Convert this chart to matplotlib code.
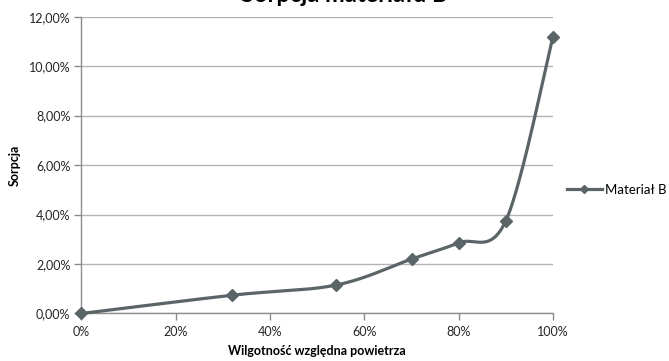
import numpy as np
import matplotlib
matplotlib.use("Agg")
import matplotlib.pyplot as plt
from matplotlib.ticker import FuncFormatter

plt.rcParams['font.family'] = ['Lato', 'DejaVu Sans']

# wilgotnosc wzgledna [%] i sorpcja [%]
humidity = [0, 32, 54, 70, 80, 90, 100]
sorption = [0.0, 0.74, 1.15, 2.20, 2.86, 3.75, 11.19]
series_name = "Materiał B"

line_color = "#5b6466"
grid_color = "#b4b4b4"
axis_color = "#8c8c8c"


def smooth_curve(ax, xs, ys, steps=40):
    """Excel-style smoothed line: Catmull-Rom bezier built in display space."""
    pts = ax.transData.transform(np.column_stack([xs, ys]))
    n = len(pts)
    out = []
    for i in range(n - 1):
        p0 = pts[max(i - 1, 0)]
        p1 = pts[i]
        p2 = pts[i + 1]
        p3 = pts[min(i + 2, n - 1)]
        c1 = p1 + (p2 - p0) / 6.0
        c2 = p2 - (p3 - p1) / 6.0
        t = np.linspace(0, 1, steps)[:, None]
        seg = ((1 - t) ** 3) * p1 + 3 * ((1 - t) ** 2) * t * c1 \
            + 3 * (1 - t) * t ** 2 * c2 + t ** 3 * p2
        out.append(seg if i == 0 else seg[1:])
    out = np.vstack(out)
    data = ax.transData.inverted().transform(out)
    return data[:, 0], data[:, 1]


fig = plt.figure(figsize=(6.69, 3.61), dpi=100)
ax = fig.add_axes([0.1218, 0.1316, 0.7048, 0.8222])

ax.set_xlim(0, 100)
ax.set_ylim(0, 12)
ax.set_xticks(range(0, 101, 20))
ax.set_yticks(range(0, 13, 2))
ax.xaxis.set_major_formatter(FuncFormatter(lambda v, p: f"{v:.0f}%"))
ax.yaxis.set_major_formatter(FuncFormatter(lambda v, p: f"{v:.2f}%".replace(".", ",")))

ax.grid(axis='y', color=grid_color, linewidth=1.0)
ax.set_axisbelow(True)
for side in ("top", "right"):
    ax.spines[side].set_visible(False)
for side in ("left", "bottom"):
    ax.spines[side].set_color(axis_color)
    ax.spines[side].set_linewidth(1.0)
ax.tick_params(axis='both', colors=axis_color, labelcolor="#262626",
               labelsize=9, length=5, width=1.0, direction='out')
ax.tick_params(axis='x', pad=4)
ax.tick_params(axis='y', pad=3)

sx, sy = smooth_curve(ax, humidity, sorption)
ax.plot(sx, sy, color=line_color, linewidth=2.3, solid_capstyle='round',
        clip_on=False, zorder=3)
ax.plot(humidity, sorption, linestyle='none', marker='D', markersize=6.5,
        color=line_color, clip_on=False, zorder=4)

# legend entry: line with diamond marker
ax.plot([], [], color=line_color, linewidth=2.3, marker='D', markersize=4,
        label=series_name)
ax.legend(loc='center left', bbox_to_anchor=(0.838, 0.474),
          bbox_transform=fig.transFigure, frameon=False, fontsize=9.5,
          handlelength=2.6, handletextpad=0.25, borderpad=0)

ax.set_xlabel("Wilgotność względna powietrza", fontsize=9, fontweight='bold',
              labelpad=5)
ax.set_ylabel("Sorpcja", fontsize=9, fontweight='bold', labelpad=6)

fig.text(0.515, 1 - 1.5 / 361, "Sorpcja materiału B", ha='center',
         va='baseline', fontsize=17, fontweight='bold')

fig.savefig("out.png", dpi=100)
